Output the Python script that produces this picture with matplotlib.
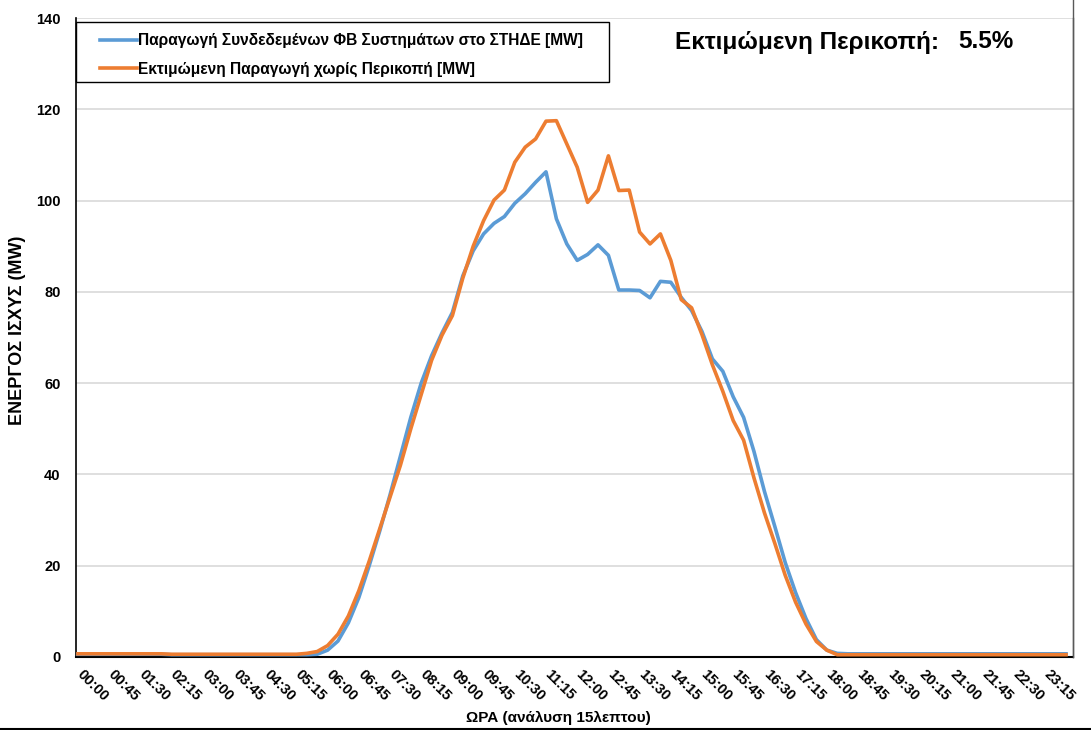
import matplotlib
matplotlib.use("Agg")
import matplotlib.pyplot as plt
from matplotlib.lines import Line2D
from matplotlib.patches import Rectangle
from matplotlib.transforms import ScaledTranslation

plt.rcParams['font.family'] = ['Liberation Sans', 'DejaVu Sans']
plt.rcParams['font.weight'] = 'bold'

times = [f"{h:02d}:{m:02d}" for h in range(24) for m in (0, 15, 30, 45)]

blue = [0.6, 0.6, 0.6, 0.6, 0.6, 0.6, 0.6, 0.6, 0.6, 0.5, 0.5, 0.5,
        0.5, 0.5, 0.5, 0.5, 0.5, 0.5, 0.5, 0.5, 0.5, 0.5, 0.5, 0.6,
        1.5, 3.5, 7.5, 13.0, 20.0, 27.5, 35.5, 44.0, 52.5, 60.0, 66.0, 71.0,
        75.5, 83.5, 89.0, 92.7, 95.0, 96.5, 99.4, 101.5, 104.0, 106.3, 96.0, 90.5,
        86.9, 88.2, 90.3, 88.0, 80.4, 80.4, 80.3, 78.7, 82.3, 82.1, 78.8, 75.9,
        71.3, 65.3, 62.6, 57.0, 52.5, 45.0, 36.3, 28.6, 20.7, 14.1, 8.4, 3.8,
        1.5, 0.8, 0.7, 0.7, 0.7, 0.7, 0.7, 0.7, 0.7, 0.7, 0.7, 0.7,
        0.7, 0.7, 0.7, 0.7, 0.7, 0.7, 0.7, 0.7, 0.7, 0.7, 0.7, 0.7]

orange = [0.7, 0.7, 0.7, 0.7, 0.7, 0.7, 0.7, 0.7, 0.7, 0.6, 0.6, 0.6,
          0.6, 0.6, 0.6, 0.6, 0.6, 0.6, 0.6, 0.6, 0.6, 0.6, 0.8, 1.2,
          2.5, 5.0, 9.0, 14.5, 21.0, 28.0, 35.0, 42.0, 50.0, 57.5, 65.0, 70.5,
          74.8, 83.0, 90.0, 95.6, 100.1, 102.3, 108.4, 111.7, 113.5, 117.4, 117.5, 112.4,
          107.3, 99.6, 102.3, 109.8, 102.2, 102.3, 93.1, 90.5, 92.7, 86.9, 78.3, 76.5,
          70.6, 64.0, 58.2, 51.8, 47.5, 39.2, 31.6, 24.9, 17.9, 12.0, 7.2, 3.4,
          1.5, 0.5, 0.5, 0.5, 0.5, 0.5, 0.5, 0.5, 0.5, 0.5, 0.5, 0.5,
          0.5, 0.5, 0.5, 0.5, 0.5, 0.5, 0.5, 0.5, 0.5, 0.5, 0.5, 0.5]

label_blue = "Παραγωγή Συνδεδεμένων ΦΒ Συστημάτων στο ΣΤΗΔΕ [MW]"
label_orange = "Εκτιμώμενη Παραγωγή χωρίς Περικοπή [MW]"
curtail_text = "Εκτιμώμενη Περικοπή:"
curtail_value = "5.5%"
y_ticks = [0, 20, 40, 60, 80, 100, 120, 140]

W, H = 1091, 730
fig = plt.figure(figsize=(W / 100, H / 100), dpi=100)
ax = fig.add_axes([76 / W, (H - 657) / H, (1073 - 76) / W, (657 - 18) / H])

x = list(range(len(times)))
ax.plot(x, blue, color='#5B9BD5', lw=2.6, label=label_blue, solid_joinstyle='round', zorder=3)
ax.plot(x, orange, color='#ED7D31', lw=2.6, label=label_orange, solid_joinstyle='round', zorder=4)

ax.set_xlim(-0.19, 95.67)
ax.set_ylim(0, 140)
ax.set_yticks(y_ticks)
ax.set_yticklabels([str(v) for v in y_ticks], fontsize=10.5, fontweight='bold')
ax.grid(axis='y', color='#d9d9d9', lw=1.2)
ax.set_axisbelow(True)

ax.set_xticks(x[::3])
ax.set_xticklabels(times[::3], rotation=-45, ha='left', va='top',
                   rotation_mode='anchor', fontsize=10.5, fontweight='bold')
ax.tick_params(axis='x', length=0, pad=8)
ax.tick_params(axis='y', length=0, pad=11)
off = ScaledTranslation(6 / 100, 1 / 100, fig.dpi_scale_trans)
for lbl in ax.get_xticklabels():
    lbl.set_transform(lbl.get_transform() + off)

ax.spines['top'].set_visible(False)
ax.spines['left'].set_color('black')
ax.spines['left'].set_linewidth(1.2)
ax.spines['bottom'].set_color('black')
ax.spines['bottom'].set_linewidth(1.5)
ax.spines['right'].set_color('#595959')
ax.spines['right'].set_linewidth(1.0)

fig.text(18 / W, 1 - 330 / H, "ΕΝΕΡΓΟΣ ΙΣΧΥΣ (MW)", fontsize=13, fontweight='bold',
         rotation=90, ha='center', va='center')
fig.text(558 / W, 1 - 718 / H, "ΩΡΑ (ανάλυση 15λεπτου)", fontsize=11, fontweight='bold',
         ha='center', va='center')

# legend box
fig.add_artist(Rectangle((76 / W, 1 - 82 / H), (609 - 76) / W, 60 / H, transform=fig.transFigure,
                         facecolor='white', edgecolor='black', lw=1.0, zorder=5))
leg = fig.legend(loc='upper left', bbox_to_anchor=(100 / W, 1 - 33 / H), frameon=False,
                 fontsize=11.2, handlelength=2.35, handletextpad=0.1,
                 borderpad=0.0, labelspacing=0.85, borderaxespad=0.0)
leg.set_zorder(6)
for t in leg.get_texts():
    t.set_fontweight('bold')

fig.text(675 / W, 1 - 42 / H, curtail_text, fontsize=17.5, fontweight='bold', va='center', ha='left')
fig.text(958 / W, 1 - 42 / H, curtail_value, fontsize=17.5, fontweight='bold', va='center', ha='left')

# chart area border fragments
fig.add_artist(Line2D([0, 1], [1.5 / H, 1.5 / H], color='black', lw=1.5, transform=fig.transFigure))
fig.add_artist(Line2D([1073 / W, 1073 / W], [(H - 657) / H, 1], color='#595959', lw=1.0,
                      transform=fig.transFigure))

fig.savefig("out.png", dpi=100)
